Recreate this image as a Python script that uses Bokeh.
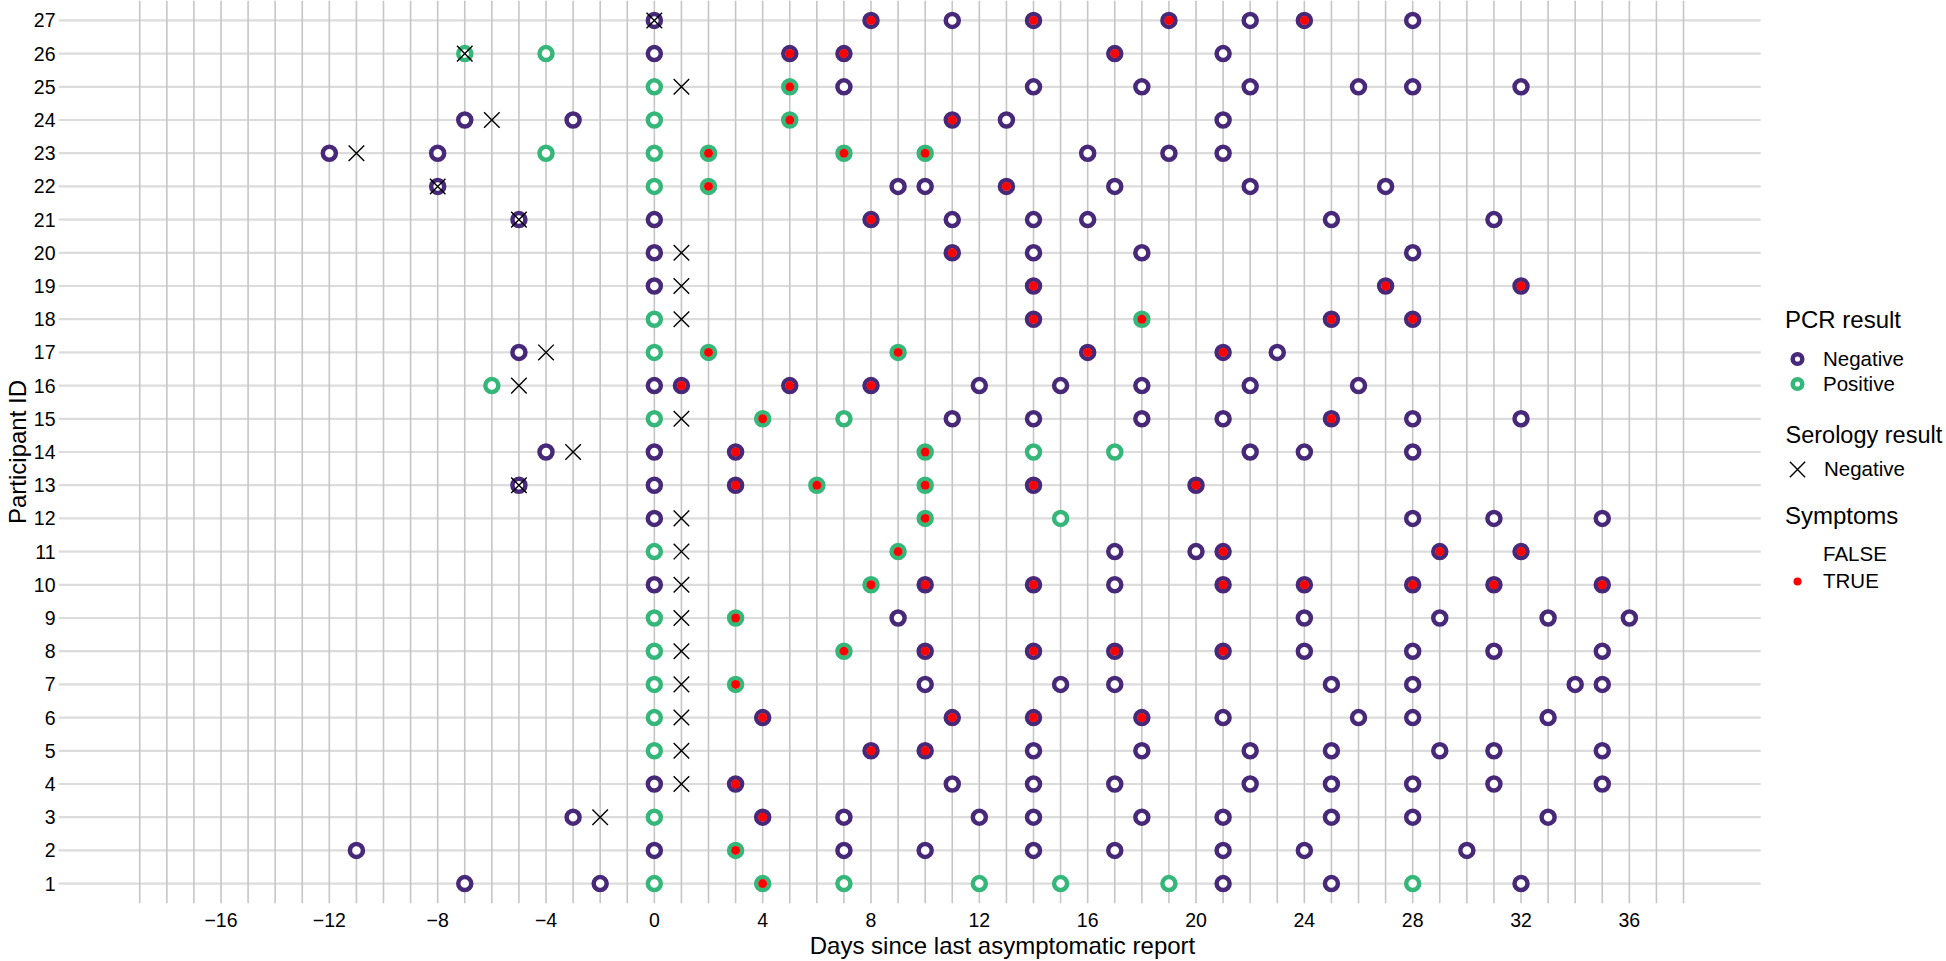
from bokeh.plotting import figure
from bokeh.models import ColumnDataSource, Range1d, FixedTicker, Legend, LegendItem, Label
from bokeh.embed import file_html
from bokeh.resources import INLINE

# ---------------- data ----------------
participants = list(range(1, 28))

# days of each PCR test, per participant (1..27)
test_days = [
    [-7, -2, 0, 4, 7, 12, 15, 19, 21, 25, 28, 32],
    [-11, 0, 3, 7, 10, 14, 17, 21, 24, 30],
    [-3, 0, 4, 7, 12, 14, 18, 21, 25, 28, 33],
    [0, 3, 11, 14, 17, 22, 25, 28, 31, 35],
    [0, 8, 10, 14, 18, 22, 25, 29, 31, 35],
    [0, 4, 11, 14, 18, 21, 26, 28, 33],
    [0, 3, 10, 15, 17, 25, 28, 34, 35],
    [0, 7, 10, 14, 17, 21, 24, 28, 31, 35],
    [0, 3, 9, 24, 29, 33, 36],
    [0, 8, 10, 14, 17, 21, 24, 28, 31, 35],
    [0, 9, 17, 20, 21, 29, 32],
    [0, 10, 15, 28, 31, 35],
    [-5, 0, 3, 6, 10, 14, 20],
    [-4, 0, 3, 10, 14, 17, 22, 24, 28],
    [0, 4, 7, 11, 14, 18, 21, 25, 28, 32],
    [-6, 0, 1, 5, 8, 12, 15, 18, 22, 26],
    [-5, 0, 2, 9, 16, 21, 23],
    [0, 14, 18, 25, 28],
    [0, 14, 27, 32],
    [0, 11, 14, 18, 28],
    [-5, 0, 8, 11, 14, 16, 25, 31],
    [-8, 0, 2, 9, 10, 13, 17, 22, 27],
    [-12, -8, -4, 0, 2, 7, 10, 16, 19, 21],
    [-7, -3, 0, 5, 11, 13, 21],
    [0, 5, 7, 14, 18, 22, 26, 28, 32],
    [-7, -4, 0, 5, 7, 17, 21],
    [0, 8, 11, 14, 19, 22, 24, 28],
]

# PCR result of each test: N = Negative, P = Positive
pcr_results = [
    "NNPPPPPPNNPN", "NNPNNNNNNN", "NPNNNNNNNNN", "NNNNNNNNNN", "PNNNNNNNNN",
    "PNNNNNNNN", "PPNNNNNNN", "PPNNNNNNNN", "PPNNNNN", "NPNNNNNNNN",
    "PPNNNNN", "NPPNNN", "NNNPPNN", "NNNPPPNNN", "PPPNNNNNNN",
    "PNNNNNNNNN", "NPPPNNN", "PNPNN", "NNNN", "NNNNN",
    "NNNNNNNN", "NPPNNNNNN", "NNPPPPPNNN", "NNPPNNN", "PPNNNNNNN",
    "PPNNNNN", "NNNNNNNN",
]

# symptoms reported at each test: 1 = TRUE, 0 = FALSE
symptom_flags = [
    "000100000000", "0010000000", "00100000000", "0100000000", "0110000000",
    "011110000", "010000000", "0111110000", "0100000", "0111011111",
    "0100111", "010000", "0011111", "001100000", "0100000100",
    "0011100000", "0011110", "01111", "0111", "01000",
    "00100000", "001001000", "0000111000", "0001100", "010000000",
    "0001110", "01011010",
]

# negative serology results
serology_participant = [3, 4, 5, 6, 7, 8, 9, 10, 11, 12, 13, 14, 15, 16, 17,
                        18, 19, 20, 21, 22, 23, 24, 25, 26, 27]
serology_day = [-2, 1, 1, 1, 1, 1, 1, 1, 1, 1, -5, -3, 1, -5, -4,
                1, 1, 1, -5, -8, -11, -6, 1, -7, 0]

x_ticks = list(range(-16, 37, 4))
day_lines = list(range(-19, 39))

# ---------------- styles / geometry ----------------
NEG_COL = "#482878"
POS_COL = "#35B779"
SYM_COL = "#FF0000"
FONT = "Liberation Sans"

X_LO, X_HI = -22.0, 47.71       # visible x range (extra room on the right for legends)
PANEL_X_HI = 40.85              # right end of the data panel
Y_LO, Y_HI = 0.4, 27.6

pcr_colour = {"N": NEG_COL, "P": POS_COL}

xs, ys, lcs, pcr_lab, sym_alpha = [], [], [], [], []
for pid, days, res, sym in zip(participants, test_days, pcr_results, symptom_flags):
    for d, r, s in zip(days, res, sym):
        xs.append(d)
        ys.append(pid)
        lcs.append(pcr_colour[r])
        pcr_lab.append(r)
        sym_alpha.append(1.0 if s == "1" else 0.0)

tests = ColumnDataSource(dict(x=xs, y=ys, lc=lcs, sa=sym_alpha))
sero = ColumnDataSource(dict(x=serology_day, y=serology_participant))

neg_idx = pcr_lab.index("N")
pos_idx = pcr_lab.index("P")
true_idx = sym_alpha.index(1.0)
false_idx = sym_alpha.index(0.0)

p = figure(width=1946, height=961, output_backend="svg", toolbar_location=None,
           x_range=Range1d(X_LO, X_HI), y_range=Range1d(Y_LO, Y_HI),
           min_border_left=0, min_border_right=0, min_border_top=0, min_border_bottom=0)
p.outline_line_color = None
p.background_fill_color = "white"
p.border_fill_color = "white"
p.grid.visible = False

# grid lines limited to the data panel
p.segment(x0=X_LO, x1=PANEL_X_HI, y0=participants, y1=participants,
          line_color="#dcdcdc", line_width=2.2)
p.segment(x0=day_lines, x1=day_lines, y0=Y_LO, y1=Y_HI,
          line_color="#c6c6c6", line_width=1.6)

# axes
p.xaxis.ticker = FixedTicker(ticks=x_ticks)
p.yaxis.ticker = FixedTicker(ticks=participants)
p.xaxis.major_label_overrides = {t: (str(t) if t >= 0 else "\u2212" + str(-t)) for t in x_ticks}
for ax in (p.xaxis[0], p.yaxis[0]):
    ax.axis_line_color = None
    ax.major_tick_line_color = None
    ax.minor_tick_line_color = None
    ax.major_tick_out = 0
    ax.major_tick_in = 0
    ax.minor_tick_out = 0
    ax.major_label_text_font = FONT
    ax.major_label_text_font_size = "19.5px"
    ax.major_label_text_color = "black"
    ax.axis_label_text_font = FONT
    ax.axis_label_text_font_size = "24px"
    ax.axis_label_text_font_style = "normal"
    ax.axis_label_text_color = "black"
p.xaxis.axis_label_standoff = 2
p.xaxis.major_label_standoff = 9
p.yaxis.axis_label_standoff = 0
p.yaxis.major_label_standoff = 3
p.xaxis.axis_label = "Days since last asymptomatic report"
p.yaxis.axis_label = "Participant ID"

# data glyphs: PCR rings, symptom dots, serology crosses
r_pcr = p.scatter("x", "y", source=tests, marker="circle", size=13, line_width=4.5,
                  line_color="lc", fill_color="white")
r_sym = p.scatter("x", "y", source=tests, marker="circle", size=9, line_color=None,
                  fill_color=SYM_COL, fill_alpha="sa")
r_sero = p.scatter("x", "y", source=sero, marker="x", size=22, line_width=1.4, line_color="black")


def make_legend(title, items, loc, gw, gh, standoff, title_standoff, spacing):
    lg = Legend(title=title, items=items, location=loc)
    lg.border_line_color = None
    lg.background_fill_alpha = 0
    lg.padding = 0
    lg.margin = 0
    lg.glyph_width = gw
    lg.glyph_height = gh
    lg.label_height = 20
    lg.label_standoff = standoff
    lg.title_standoff = title_standoff
    lg.spacing = spacing
    lg.label_text_font = FONT
    lg.label_text_font_size = "20.5px"
    lg.label_text_color = "black"
    lg.title_text_font = FONT
    lg.title_text_font_size = "24px"
    lg.title_text_font_style = "normal"
    lg.title_text_color = "black"
    return lg


leg_pcr = make_legend("PCR result",
                      [LegendItem(label="Negative", renderers=[r_pcr], index=neg_idx),
                       LegendItem(label="Positive", renderers=[r_pcr], index=pos_idx)],
                      (1727, 507), 24, 25, 14, 12, 0)
leg_sero = make_legend("",
                       [LegendItem(label="Negative", renderers=[r_sero], index=0)],
                       (1712, 407), 54, 54, 0, 0, 0)
leg_sym = make_legend("Symptoms",
                      [LegendItem(label="FALSE", renderers=[r_sym], index=false_idx),
                       LegendItem(label="TRUE", renderers=[r_sym], index=true_idx)],
                      (1727, 310), 24, 20, 14, 12, 3)
for lg in (leg_pcr, leg_sero, leg_sym):
    p.add_layout(lg, "center")

sero_title = Label(text="Serology result", x=1727, y=469, x_units="screen", y_units="screen",
                   text_font=FONT, text_font_size="23.5px", text_color="black",
                   text_baseline="middle", text_align="left")
p.add_layout(sero_title)

open("out.html", "w").write(file_html(p, INLINE))
